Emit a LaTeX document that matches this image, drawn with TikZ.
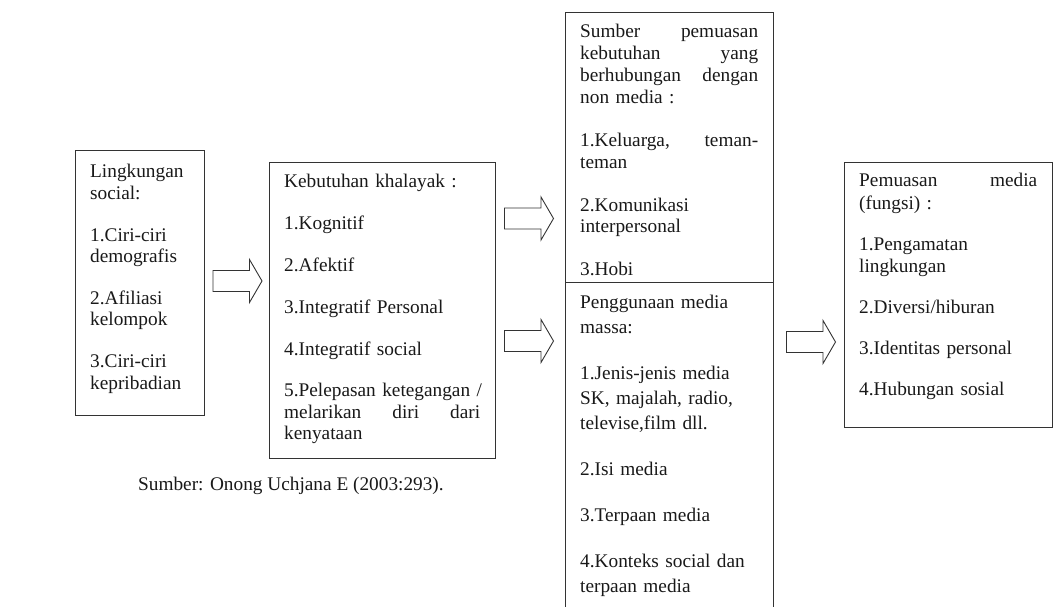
\documentclass[tikz,border=0pt]{standalone}
\usepackage{fontspec}
\setmainfont{Liberation Serif}
\begin{document}
\begin{tikzpicture}[x=1pt,y=-1pt,
  boxline/.style={draw=black!80, line width=1pt},
  box/.style={boxline, inner sep=0, anchor=north west},
  txt/.style n args={3}{anchor=base west, inner sep=0, text width=#1, align=left,
    text=black!90, font=\fontsize{19.3}{#2}\selectfont},
  barrow/.style={draw=black!80, line width=0.9pt, fill=white}]
\useasboundingbox (0,0) rectangle (1053,607);
\fill[white] (0,0) rectangle (1053,607);

% boxes
\node[box, minimum width=129pt, minimum height=265pt] (b1) at (75,150) {};
\node[box, minimum width=226pt, minimum height=296pt] (b2) at (269,162) {};
\node[box, minimum width=208pt, minimum height=270pt] (b3) at (565,12) {};
\node[inner sep=0, anchor=north west, minimum width=208pt, minimum height=325pt] (b4) at (565,282) {};
\draw[boxline] (b4.south west) -- (b4.north west) -- (b4.north east) -- (b4.south east);
\node[box, minimum width=208pt, minimum height=265pt] (b5) at (844,162) {};

% block arrows
\coordinate (a1) at (237.5,281);
\coordinate (a2) at (529,218.5);
\coordinate (a3) at (529,341);
\coordinate (a4) at (811,342);
\foreach \a in {a1,a2,a3,a4}{
  \draw[barrow, shift={(\a)}] (-24.5,-10.5) -- (12,-10.5) -- (12,-21.5) -- (24.5,0)
    -- (12,21.5) -- (12,10.5) -- (-24.5,10.5) -- cycle;
}

% texts
\node[txt={99pt}{21.3pt}{}] (t1) at (90,178) {Lingkungan\\ social:\\[20.7pt]
1.Ciri-ciri\\ demografis\\[20.7pt]
2.Afiliasi\\ kelompok\\[20.7pt]
3.Ciri-ciri\\ kepribadian};

\node[txt={198pt}{21.2pt}{}] (t2) at (284,188) {Kebutuhan khalayak :\\[20.6pt]
1.Kognitif\\[20.6pt]
2.Afektif\\[20.6pt]
3.Integratif Personal\\[20.6pt]
4.Integratif social\\[20.6pt]
5.Pelepasan ketegangan /\\
\makebox[196pt][s]{melarikan \hfill diri \hfill dari}\\
kenyataan};

\node[txt={178pt}{21.8pt}{}] (t3) at (580,38) {\makebox[178pt][s]{Sumber \hfill pemuasan}\\
\makebox[178pt][s]{kebutuhan \hfill yang}\\
\makebox[178pt][s]{berhubungan \hfill dengan}\\
non media :\\[21.2pt]
\makebox[178pt][s]{1.Keluarga, \hfill teman-}\\
teman\\[21.2pt]
2.Komunikasi\\ interpersonal\\[21.2pt]
3.Hobi};

\node[txt={178pt}{25.3pt}{}] (t4) at (580,308) {Penggunaan media\\ massa:\\[20.5pt]
1.Jenis-jenis media\\ SK, majalah, radio,\\ televise,film dll.\\[20.5pt]
2.Isi media\\[20.5pt]
3.Terpaan media\\[20.5pt]
4.Konteks social dan\\ terpaan media};

\node[txt={178pt}{22.5pt}{}] (t5) at (859,187) {\makebox[178pt][s]{Pemuasan \hfill media}\\
(fungsi) :\\[18.5pt]
1.Pengamatan\\ lingkungan\\[18.5pt]
2.Diversi/hiburan\\[18.5pt]
3.Identitas personal\\[18.5pt]
4.Hubungan sosial};

\node[anchor=base west, inner sep=0, text=black!90, font=\fontsize{19.3}{21}\selectfont] (src) at (138,490) {Sumber: Onong Uchjana E (2003:293).};
\end{tikzpicture}
\end{document}
